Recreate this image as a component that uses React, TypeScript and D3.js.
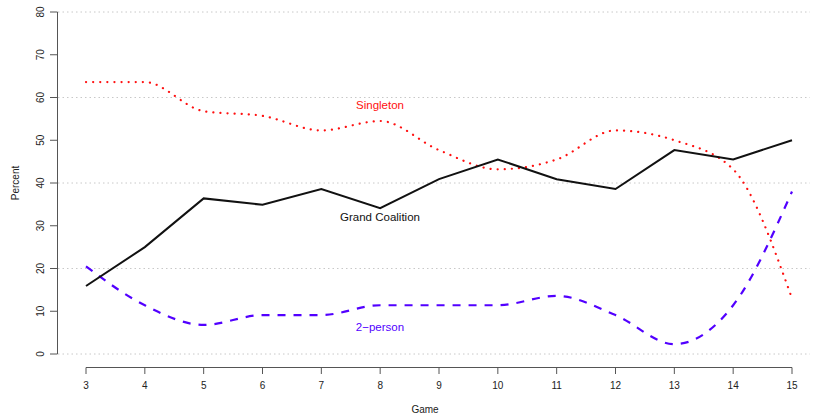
import React from "react";
import * as d3 from "d3";

const games = [3, 4, 5, 6, 7, 8, 9, 10, 11, 12, 13, 14, 15];
const grandCoalition = [15.9, 25, 36.4, 34.9, 38.6, 34.1, 40.9, 45.5, 40.9, 38.6, 47.7, 45.5, 50];
const singleton = [63.6, 63.6, 56.8, 55.7, 52.3, 54.5, 47.7, 43.2, 45.5, 52.3, 50, 43.2, 13];
const twoPerson = [20.5, 11.4, 6.8, 9.1, 9.1, 11.4, 11.4, 11.4, 13.6, 9.1, 2.3, 11.4, 38];
const yTicks = [0, 10, 20, 30, 40, 50, 60, 70, 80];
const gridTicks = [0, 20, 40, 60, 80];

export default function App() {
  const W = 814, H = 417;
  const x = d3.scaleLinear().domain([3, 15]).range([86, 792]);
  const y = d3.scaleLinear().domain([0, 80]).range([354, 12]);
  const font = "'Liberation Sans', Arial, Helvetica, sans-serif";
  const straight = d3.line<number>().x((_, i) => x(games[i])).y((d) => y(d));
  const smooth = d3.line<number>().x((_, i) => x(games[i])).y((d) => y(d)).curve(d3.curveMonotoneX);
  const axisColor = "#555";
  return (
    <svg width={W} height={H} style={{ position: "absolute", left: 0, top: 0, background: "#fff" }}>
      {gridTicks.map((t) => (
        <line key={"g" + t} x1={58} x2={810} y1={y(t)} y2={y(t)} stroke="#c8c8c8" strokeWidth={1} strokeDasharray="1.5,3" />
      ))}
      {/* y axis */}
      <line x1={57.5} x2={57.5} y1={y(0)} y2={y(80)} stroke={axisColor} strokeWidth={1} />
      {yTicks.map((t) => (
        <g key={"y" + t}>
          <line x1={50} x2={57.5} y1={y(t)} y2={y(t)} stroke={axisColor} strokeWidth={1} />
          <text x={44} y={y(t)} transform={`rotate(-90 44 ${y(t)})`} textAnchor="middle" fontSize={10} fontFamily={font} fill="#222">{t}</text>
        </g>
      ))}
      {/* x axis */}
      <line x1={x(3)} x2={x(15)} y1={367.5} y2={367.5} stroke={axisColor} strokeWidth={1} />
      {games.map((g) => (
        <g key={"x" + g}>
          <line x1={x(g)} x2={x(g)} y1={367.5} y2={374} stroke={axisColor} strokeWidth={1} />
          <text x={x(g)} y={389} textAnchor="middle" fontSize={10} fontFamily={font} fill="#222">{g}</text>
        </g>
      ))}
      <text x={425} y={413} textAnchor="middle" fontSize={10} fontFamily={font} fill="#222">Game</text>
      <text x={19} y={183} transform="rotate(-90 19 183)" textAnchor="middle" fontSize={10} fontFamily={font} fill="#222">Percent</text>
      {/* series */}
      <path d={smooth(singleton) || ""} fill="none" stroke="#FF1010" strokeWidth={2.2} strokeDasharray="0.1,7" strokeLinecap="round" />
      <path d={smooth(twoPerson) || ""} fill="none" stroke="#5200FF" strokeWidth={2.2} strokeDasharray="8,8" />
      <path d={straight(grandCoalition) || ""} fill="none" stroke="#111" strokeWidth={2} />
      <text x={380} y={109} textAnchor="middle" fontSize={11.5} fontFamily={font} fill="#FF1010">Singleton</text>
      <text x={380} y={221} textAnchor="middle" fontSize={11.5} fontFamily={font} fill="#111">Grand Coalition</text>
      <text x={380} y={331} textAnchor="middle" fontSize={11.5} fontFamily={font} fill="#5200FF">2−person</text>
    </svg>
  );
}
